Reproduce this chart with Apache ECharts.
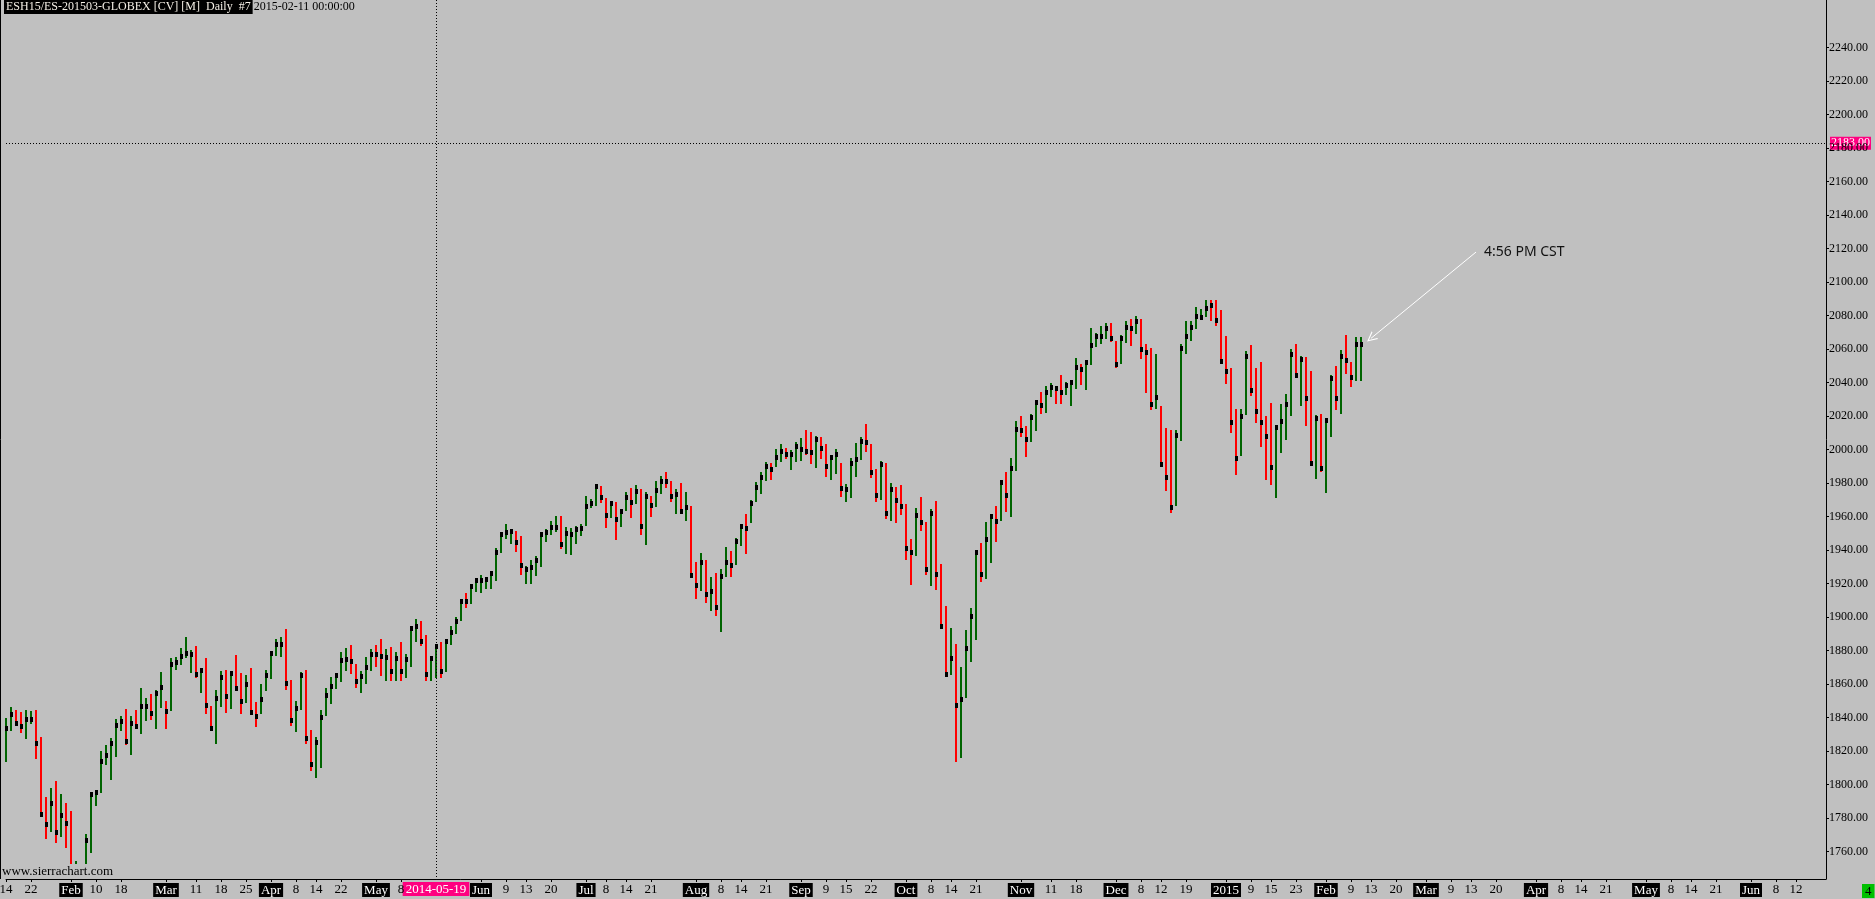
<!DOCTYPE html>
<html><head><meta charset="utf-8">
<script src="https://cdn.jsdelivr.net/npm/echarts@6/dist/echarts.min.js"></script>
<style>html,body{margin:0;padding:0;background:#c0c0c0;overflow:hidden}#c{width:1875px;height:899px}</style>
</head><body><div id="c"></div>
<script>
// ---------- data ----------
const firstDate = '2014-01-14';
const holidays = ['2014-01-20','2014-02-17','2014-04-18','2014-05-26','2014-07-04','2014-09-01','2014-11-27','2014-12-25','2015-01-01','2015-01-19'];
const totalSlots = 365;
const headerTitle = 'ESH15/ES-201503-GLOBEX [CV] [M]  Daily  #7';
const headerDate = '2015-02-11 00:00:00';
const cursorDate = '2014-05-19';
const cursorPrice = 2183.00;
const lastPrice = 2063.25;
const noteText = '4:56 PM CST';
const priceTicks = [1760,1780,1800,1820,1840,1860,1880,1900,1920,1940,1960,1980,2000,2020,2040,2060,2080,2100,2120,2140,2160,2180,2200,2220,2240];

const highs = [
1839.7,1846.6,1844.6,1843.4,1844.6,1844.0,1844.6,1828.5,1792.9,1798.1,
1802.2,1794.5,1789.3,1784.3,1754.5,1751.0,1770.6,1795.7,1796.9,1820.4,
1823.7,1827.9,1839.3,1841.0,1845.2,1841.0,1844.6,1857.8,1851.8,1854.2,
1856.6,1867.3,1850.0,1875.7,1876.3,1881.6,1888.2,1880.4,1882.8,1869.7,
1875.7,1847.0,1856.6,1867.9,1868.5,1867.9,1877.5,1866.7,1865.5,1869.7,
1849.4,1860.2,1868.5,1879.9,1887.0,1888.2,1893.0,1862.5,1850.0,1867.3,
1868.5,1832.7,1828.5,1844.6,1857.8,1864.3,1866.7,1879.3,1881.6,1883.4,
1872.0,1868.0,1876.2,1880.8,1883.4,1887.0,1880.8,1882.0,1879.0,1885.2,
1878.0,1894.8,1899.0,1897.8,1889.4,1876.0,1884.0,1885.2,1887.0,1894.8,
1900.1,1910.9,1914.4,1919.8,1923.4,1925.2,1924.0,1927.6,1941.3,1950.9,
1955.6,1952.7,1951.5,1948.5,1930.6,1934.2,1936.5,1950.9,1952.7,1957.4,
1960.4,1960.4,1953.9,1953.3,1954.5,1955.6,1972.4,1970.6,1979.5,1978.3,
1971.2,1969.4,1968.8,1964.6,1974.7,1977.1,1978.9,1976.5,1974.7,1972.4,
1981.3,1984.3,1986.7,1981.3,1976.5,1980.1,1974.8,1966.4,1933.0,1938.3,
1934.2,1924.0,1926.4,1928.8,1941.9,1939.5,1947.3,1955.7,1961.6,1970.0,
1980.7,1986.7,1992.7,1992.1,2000.4,2003.4,2001.0,1999.8,2004.6,2007.0,
2011.8,2010.6,2008.2,2007.6,2003.4,1996.9,2000.4,1992.1,1979.5,1995.1,
2004.0,2007.6,2015.4,2003.4,1988.5,1993.3,1992.1,1980.1,1977.7,1978.9,
1967.6,1946.7,1965.2,1971.8,1956.9,1964.6,1969.4,1931.8,1906.7,1893.6,
1884.0,1870.2,1892.4,1905.5,1940.1,1944.3,1956.9,1961.6,1966.4,1981.9,
1986.7,1995.1,2017.2,2020.1,2014.2,2021.3,2029.7,2034.5,2038.0,2039.8,
2038.0,2044.6,2040.4,2041.6,2054.8,2051.2,2053.6,2072.7,2069.7,2073.9,
2075.7,2075.7,2064.9,2068.5,2076.8,2078.0,2079.8,2078.0,2063.1,2060.7,
2057.1,2026.1,2013.0,2011.8,2011.8,2063.1,2076.8,2076.8,2085.2,2084.0,
2089.4,2089.4,2089.4,2083.4,2067.9,2048.8,2024.3,2024.3,2058.9,2062.5,
2048.8,2052.4,2020.1,2027.9,2014.8,2027.3,2033.3,2060.1,2063.1,2056.0,
2055.4,2047.0,2020.7,2021.3,2018.9,2044.6,2050.0,2059.5,2068.5,2052.4,
2067.3,2067.3];

const lows = [
1813.8,1832.3,1836.3,1830.7,1827.5,1836.1,1815.2,1780.8,1767.8,1772.0,
1765.0,1769.0,1762.4,1735.0,1737.0,1733.0,1745.0,1759.5,1787.5,1795.1,
1811.8,1802.8,1816.6,1832.3,1823.7,1817.8,1833.5,1830.3,1838.1,1838.7,
1833.3,1845.8,1833.3,1844.0,1868.5,1871.5,1875.7,1866.7,1863.7,1854.8,
1842.2,1832.1,1824.3,1846.4,1842.8,1845.2,1856.0,1842.2,1848.8,1841.6,
1834.5,1842.2,1856.0,1863.1,1876.9,1876.3,1856.6,1835.1,1831.5,1844.6,
1824.3,1808.2,1804.0,1810.0,1841.0,1848.2,1857.2,1861.3,1868.0,1866.0,
1858.0,1855.0,1860.0,1868.0,1870.0,1865.0,1862.0,1862.0,1862.0,1862.0,
1864.0,1870.0,1885.0,1883.0,1862.0,1862.0,1864.0,1864.0,1867.0,1883.4,
1890.0,1897.7,1905.5,1907.9,1915.0,1914.4,1916.8,1916.8,1921.6,1938.3,
1946.7,1943.7,1938.9,1925.2,1919.8,1919.8,1924.6,1930.0,1944.9,1949.1,
1950.9,1940.7,1937.7,1937.1,1943.7,1948.5,1954.5,1965.2,1966.4,1968.2,
1953.3,1959.2,1946.1,1953.9,1963.4,1959.2,1967.6,1949.1,1943.1,1959.8,
1965.8,1973.6,1977.1,1968.8,1961.6,1961.6,1957.6,1924.2,1910.9,1915.7,
1908.5,1903.7,1900.7,1891.2,1924.0,1924.0,1931.2,1942.5,1937.8,1956.3,
1968.8,1973.6,1981.3,1981.9,1989.7,1992.7,1994.5,1987.9,1992.7,1993.3,
1996.9,1991.5,1989.1,1994.5,1983.7,1981.9,1985.5,1971.8,1968.8,1971.2,
1983.7,1993.9,1998.6,1983.1,1968.8,1970.0,1958.6,1957.5,1956.3,1961.0,
1934.2,1919.2,1936.6,1951.5,1925.2,1918.6,1916.3,1894.2,1864.3,1865.5,
1813.6,1816.0,1851.8,1873.3,1886.4,1921.0,1922.8,1932.4,1944.9,1957.5,
1962.8,1959.8,1987.3,2007.6,1995.6,2004.6,2011.2,2021.3,2021.9,2031.5,
2027.3,2027.3,2032.7,2026.1,2036.3,2038.6,2035.7,2050.6,2061.3,2063.1,
2066.1,2064.3,2048.8,2051.2,2063.7,2061.9,2069.1,2054.2,2033.9,2023.7,
2024.3,1989.7,1975.3,1962.2,1966.4,2005.2,2057.1,2064.9,2072.1,2077.4,
2079.2,2076.8,2073.9,2051.2,2039.2,2010.0,1984.9,1996.3,2020.7,2032.1,
2016.0,2001.6,1981.9,1978.9,1971.2,1998.0,2005.8,2020.1,2042.8,2026.1,
2014.2,1990.3,1982.5,1986.7,1974.2,2007.6,2023.7,2021.3,2045.2,2037.4,
2041.0,2041.0];

const closes = [
1833.7,1842.2,1836.7,1834.9,1839.3,1839.3,1824.7,1782.3,1776.6,1788.9,
1771.6,1781.9,1777.2,1736.5,1748.0,1746.0,1766.8,1794.3,1795.5,1814.0,
1817.6,1824.7,1835.5,1837.9,1825.9,1837.1,1834.9,1846.8,1846.8,1842.6,
1854.6,1858.4,1843.8,1872.1,1873.1,1876.9,1878.5,1877.9,1865.9,1868.5,
1847.4,1833.7,1851.8,1864.3,1853.0,1866.5,1857.6,1849.8,1860.2,1843.2,
1840.8,1851.0,1865.5,1878.5,1884.0,1884.0,1860.6,1838.5,1845.6,1865.5,
1827.7,1812.2,1825.3,1840.4,1853.6,1859.0,1865.3,1874.3,1875.0,1874.0,
1862.0,1865.0,1870.0,1878.2,1878.2,1876.6,1876.1,1868.0,1875.4,1868.0,
1875.0,1893.4,1894.6,1885.6,1866.0,1875.8,1882.8,1868.0,1885.6,1891.0,
1897.5,1909.5,1909.5,1918.4,1922.0,1922.0,1922.6,1926.2,1938.7,1949.5,
1950.7,1951.3,1944.7,1931.0,1928.6,1929.8,1934.0,1949.5,1950.7,1953.7,
1953.7,1943.5,1950.1,1949.5,1952.5,1953.1,1966.2,1968.0,1978.1,1971.6,
1960.8,1968.0,1958.4,1963.2,1971.6,1968.6,1975.1,1954.3,1972.2,1966.8,
1975.7,1981.1,1981.1,1972.2,1973.6,1963.2,1965.6,1925.0,1919.0,1932.8,
1913.7,1915.5,1905.9,1924.4,1932.8,1931.0,1945.3,1954.3,1953.1,1968.0,
1977.6,1983.5,1990.1,1988.3,1995.5,1999.0,1997.3,1997.3,2002.0,2000.2,
1999.0,1998.4,2006.2,2000.8,1990.1,1995.5,1997.3,1977.0,1976.4,1991.9,
1994.3,2005.0,2004.4,1986.5,1972.8,1991.3,1962.0,1976.4,1969.8,1966.2,
1941.1,1938.7,1960.8,1956.7,1928.6,1962.0,1925.6,1894.6,1865.9,1875.5,
1847.4,1851.0,1881.4,1900.5,1938.7,1925.6,1946.5,1960.2,1957.2,1980.5,
1972.8,1988.9,2012.2,2011.6,2006.2,2019.3,2028.3,2026.5,2034.3,2037.2,
2036.6,2034.3,2038.4,2040.2,2049.2,2048.0,2052.2,2062.3,2067.7,2067.7,
2072.5,2066.5,2051.0,2066.5,2073.1,2072.5,2076.6,2059.9,2058.1,2027.1,
2031.3,1991.3,1983.5,1965.6,2008.6,2060.5,2067.7,2073.1,2079.6,2079.0,
2084.4,2086.2,2077.2,2052.8,2046.8,2016.3,1994.9,2019.9,2055.8,2035.5,
2022.9,2016.3,2008.0,1989.5,2013.4,2017.0,2027.1,2056.9,2044.4,2054.0,
2030.7,1991.9,2018.7,1988.9,2017.5,2042.6,2030.7,2055.8,2053.4,2043.2,
2062.9,2063.25];

// G = green (up) bar, R = red (down) bar
const upDown =
 'GGRRGGRRRG' + 'RGRRGRGGGG' + 'GGGGRGRGGR' + 'GGRGGGGGRG' + 'RRGGRGRRGR' +
 'RGGGGGRRGG' + 'RRGGGGGGGR' + 'RGGGRRGRGR' + 'GGGRRGGRGG' + 'GGRGGGGGGG' +
 'GGRRGGGGGG' + 'GRGGGGGGGR' + 'RGRGGRGRGR' + 'GGRRGRGRRG' + 'RGRGGRGGRG' +
 'GGGRGGRGGG' + 'RRGRRGGRGG' + 'GGRRRGRGRR' + 'RRGRRGRRRG' + 'RGGGGRGGRG' +
 'RGGRRGGRGG' + 'RRGGGRGGGG' + 'GRRGGRGRRR' + 'GRRRGGGGGG' + 'GRRRRRRGGR' +
 'RRRRGGGGRG' + 'RRGRGGRGRR' + 'GG';

const monthTicks = ['2014-02-03','2014-03-03','2014-04-01','2014-05-01','2014-06-02','2014-07-01','2014-08-01','2014-09-02','2014-10-01','2014-11-03','2014-12-01','2015-01-02','2015-02-02','2015-03-02','2015-04-01','2015-05-01','2015-06-01'];
const dayTicks = ['2014-01-14','2014-01-22','2014-02-10','2014-02-18','2014-03-11','2014-03-18','2014-03-25','2014-04-08','2014-04-14','2014-04-22','2014-05-08','2014-06-09','2014-06-13','2014-06-20','2014-07-08','2014-07-14','2014-07-21','2014-08-08','2014-08-14','2014-08-21','2014-09-09','2014-09-15','2014-09-22','2014-10-08','2014-10-14','2014-10-21','2014-11-11','2014-11-18','2014-12-08','2014-12-12','2014-12-19','2015-01-09','2015-01-15','2015-01-23','2015-02-09','2015-02-13','2015-02-20','2015-03-09','2015-03-13','2015-03-20','2015-04-08','2015-04-14','2015-04-21','2015-05-08','2015-05-14','2015-05-21','2015-06-08','2015-06-12'];
const monthAbbr = ['Jan','Feb','Mar','Apr','May','Jun','Jul','Aug','Sep','Oct','Nov','Dec'];

// arrow annotation anchors (category date, price)
const noteStart = ['2015-03-16', 2118.0];
const noteEnd = ['2015-02-13', 2066.5];

// ---------- build ----------
const dates = [];
(function(){
  const d = new Date(firstDate + 'T00:00:00Z');
  while (dates.length < totalSlots) {
    const w = d.getUTCDay(); const s = d.toISOString().slice(0,10);
    if (w !== 0 && w !== 6 && holidays.indexOf(s) < 0) dates.push(s);
    d.setUTCDate(d.getUTCDate() + 1);
  }
})();
const monthSet = new Set(monthTicks);
const tickSet = new Set(monthTicks.concat(dayTicks));
const barData = closes.map((c, i) => [i, highs[i], lows[i], c, upDown[i] === 'G' ? 1 : 0]);

const yMin = 1743.7, yMax = 2268.5, plotFloor = 1752.6;
const serif = '"Liberation Serif", "Times New Roman", serif';
const upColor = '#006400', downColor = '#ff0000';

const chart = echarts.init(document.getElementById('c'), null, {renderer: 'canvas'});
chart.setOption({
  animation: false,
  backgroundColor: '#c0c0c0',
  grid: {left: 6, right: 49, top: 0, bottom: 20, outerBoundsMode: 'none', containLabel: false},
  xAxis: {
    type: 'category', data: dates, boundaryGap: false, z: 5,
    axisLine: {show: true, lineStyle: {color: '#000', width: 1}},
    axisTick: {show: true, length: 3, interval: (i, v) => tickSet.has(v), lineStyle: {color: '#000'}},
    axisLabel: {
      interval: (i, v) => tickSet.has(v), margin: 4, fontFamily: serif, fontSize: 13, color: '#000',
      hideOverlap: false,
      formatter: (v) => {
        if (!tickSet.has(v)) return '';
        const p = v.split('-');
        if (monthSet.has(v)) return '{m|' + (p[1] === '01' ? p[0] : monthAbbr[+p[1] - 1]) + '}';
        return '{d|' + (+p[2]) + '}';
      },
      rich: {
        m: {backgroundColor: '#000', color: '#fff', fontFamily: serif, fontSize: 13, padding: [1, 2, 0, 2]},
        d: {color: '#000', fontFamily: serif, fontSize: 13}
      }
    },
    splitLine: {show: false}
  },
  yAxis: {
    type: 'value', position: 'right', min: yMin, max: yMax, z: 5,
    axisLine: {show: true, lineStyle: {color: '#000', width: 1}},
    axisTick: {show: true, length: 3, customValues: priceTicks, lineStyle: {color: '#000'}},
    splitLine: {show: false},
    axisLabel: {
      margin: 3, fontFamily: serif, fontSize: 12, color: '#000', customValues: priceTicks,
      formatter: (v) => v.toFixed(2)
    }
  },
  series: [{
    type: 'custom', data: barData, encode: {x: 0, y: [1, 2, 3]}, clip: false, silent: true, z: 2,
    renderItem: (params, api) => {
      const idx = api.value(0), hi = api.value(1), lo = api.value(2), cl = api.value(3), up = api.value(4);
      if (hi < plotFloor) return null;
      const pt = api.coord([idx, hi]), pb = api.coord([idx, Math.max(lo, plotFloor)]);
      const x = Math.round(pt[0]);
      const yt = Math.round(pt[1]), yb = Math.round(pb[1]);
      const children = [{type: 'rect', shape: {x: x - 1, y: yt, width: 2, height: Math.max(1, yb - yt)}, style: {fill: up ? upColor : downColor}}];
      if (cl >= plotFloor + 1) {
        const pc = api.coord([idx, cl]);
        children.push({type: 'rect', shape: {x: x - 1, y: Math.round(pc[1]) - 2, width: 3, height: 5}, style: {fill: '#000'}});
      }
      return {type: 'group', children};
    },
    markLine: {
      silent: true, symbol: ['none', 'none'], animation: false,
      data: [
        [{coord: [dates.indexOf(cursorDate), yMax], lineStyle: {type: [1, 2], color: '#000', width: 1}},
         {coord: [dates.indexOf(cursorDate), yMin],
          label: {show: true, position: 'end', distance: 3, formatter: cursorDate, backgroundColor: '#ff0080', color: '#fff', fontFamily: serif, fontSize: 13, padding: [1, 3, 0, 3]}}],
        {yAxis: cursorPrice, lineStyle: {type: [1, 2], color: '#000', width: 1},
         label: {show: true, position: 'end', distance: 4, formatter: cursorPrice.toFixed(2), backgroundColor: '#ff0080', color: '#fff', fontFamily: serif, fontSize: 12, padding: [1, 1, 0, 1]}},
        {yAxis: lastPrice, lineStyle: {opacity: 0},
         label: {show: true, position: 'end', distance: 4, formatter: lastPrice.toFixed(2), backgroundColor: '#000', color: '#fff', fontFamily: serif, fontSize: 12, padding: [1, 1, 0, 1]}},
        [{coord: [dates.indexOf(noteStart[0]), noteStart[1]], symbol: 'none', lineStyle: {color: '#fff', width: 1, type: 'solid'}, label: {show: false}},
         {coord: [dates.indexOf(noteEnd[0]), noteEnd[1]], symbol: 'path://M5,0 L10,10 L8.8,10 L5,2.4 L1.2,10 L0,10 Z', symbolSize: [10, 10], label: {show: false}}]
      ]
    },
    markPoint: {
      silent: true, animation: false,
      data: [{coord: [dates.indexOf(noteStart[0]), noteStart[1]], symbol: 'circle', symbolSize: 0,
        label: {show: true, position: 'right', distance: 8, formatter: noteText, color: '#111', fontFamily: '"Noto Sans", "Open Sans", sans-serif', fontSize: 14}}]
    }
  }],
  graphic: [
    {type: 'line', shape: {x1: 0.5, y1: 0, x2: 0.5, y2: 879}, style: {stroke: '#000', lineWidth: 1}, z: 10},
    {type: 'text', x: 4, y: 0, z: 10, style: {
      text: '{a|' + headerTitle + '}{b|' + headerDate + '}', font: '12px ' + serif,
      rich: {
        a: {fill: '#f4efe6', backgroundColor: '#000', font: '12px ' + serif, padding: [1, 2, 1, 2]},
        b: {fill: '#000', font: '12px ' + serif, padding: [1, 0, 1, 1]}
      }}},
    {type: 'text', x: 2, y: 865, z: 10, style: {text: 'www.sierrachart.com', fill: '#000', font: '13px ' + serif}},
    {type: 'text', x: 1862, y: 884, z: 10, style: {text: '4', fill: '#000', backgroundColor: '#00c000', font: '13px ' + serif, padding: [1, 3, 0, 3]}}
  ]
});
</script></body></html>
